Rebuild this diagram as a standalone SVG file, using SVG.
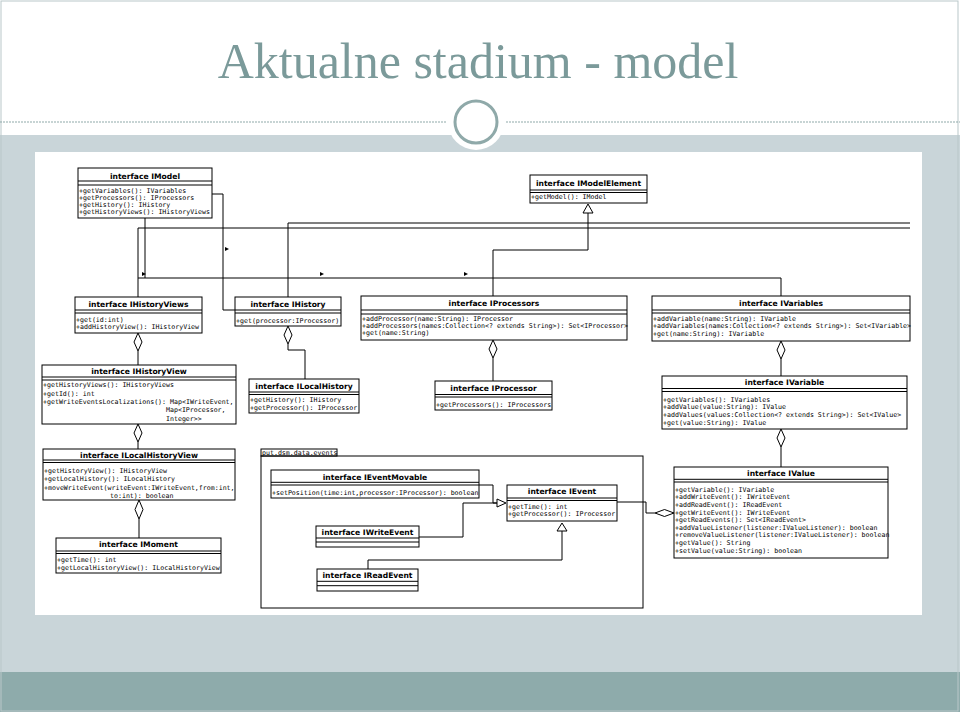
<svg xmlns="http://www.w3.org/2000/svg" width="960" height="712" viewBox="0 0 960 712">
<style>
.box{fill:#fff;stroke:#000;stroke-width:1}
.sep{stroke:#000;stroke-width:1}
.t{font-family:"DejaVu Sans",sans-serif;font-weight:bold;font-size:7.6px;text-anchor:middle;fill:#000}
.m{font-family:"DejaVu Sans Mono",monospace;font-size:6.6px;fill:#000}
.ln{stroke:#000;stroke-width:1;fill:none}
.dia{fill:#fff;stroke:#000;stroke-width:1}
.tri{fill:#fff;stroke:#000;stroke-width:1}
.nav{fill:#000}
.pkg{fill:none;stroke:#000;stroke-width:1}
</style>
<rect x="0" y="0" width="960" height="712" fill="#fff"/>
<rect x="0" y="135" width="960" height="537" fill="#c9d5d9"/>
<rect x="0" y="672" width="960" height="40" fill="#8eabab"/>
<rect x="1" y="1" width="957" height="710" fill="none" stroke="#b9c7c9" stroke-width="1"/>
<text x="478" y="78" font-family="Liberation Serif, serif" font-size="50" fill="#7b9a9a" text-anchor="middle">Aktualne stadium - model</text>
<line x1="0" y1="122" x2="446" y2="122" stroke="#8fa9a9" stroke-width="1" stroke-dasharray="2 1"/>
<line x1="506" y1="122" x2="960" y2="122" stroke="#8fa9a9" stroke-width="1" stroke-dasharray="2 1"/>
<circle cx="476" cy="122" r="28" fill="#fff"/>
<circle cx="476" cy="122" r="21" fill="#fff" stroke="#8fa9a9" stroke-width="3"/>
<rect x="35" y="152" width="887" height="463" fill="#fff"/>

<g id="package_events">
<rect class="pkg" x="261" y="449" width="76" height="7"/>
<text class="m" x="262" y="455" font-size="6">put.dsm.data.events</text>
<rect class="pkg" x="261" y="456" width="382" height="152"/>
</g>

<g id="connectors">
<polyline class="ln" points="212,194 223,194 223,310 235,310"/>
<polyline class="ln" points="145,218 145,278"/>
<polyline class="ln" points="138,278 781,278 781,296"/>
<polyline class="ln" points="138,297 138,228 910,228"/>
<polyline class="ln" points="288,297 288,223 910,223"/>
<polyline class="ln" points="493,296 493,250 588,250 588,213"/>
<polygon class="tri" points="588,204 583,213 593,213"/>
<polygon class="nav" points="225,247 229,249 225,251"/>
<polygon class="nav" points="142,272 146,274 142,276"/>
<polygon class="nav" points="320,272 324,274 320,276"/>
<polygon class="nav" points="464,272 468,274 464,276"/>
<line class="ln" x1="138" y1="351" x2="138" y2="365"/>
<polygon class="dia" points="138,333 142,342 138,351 134,342"/>
<polyline class="ln" points="288,344 288,350 305,350 305,379"/>
<polygon class="dia" points="288,326 292,335 288,344 284,335"/>
<line class="ln" x1="493" y1="358" x2="493" y2="381"/>
<polygon class="dia" points="493,340 497,349 493,358 489,349"/>
<line class="ln" x1="781" y1="359" x2="781" y2="376"/>
<polygon class="dia" points="781,341 785,350 781,359 777,350"/>
<line class="ln" x1="138" y1="442" x2="138" y2="449"/>
<polygon class="dia" points="138,424 142,433 138,442 134,433"/>
<line class="ln" x1="781" y1="447" x2="781" y2="467"/>
<polygon class="dia" points="781,429 785,438 781,447 777,438"/>
<line class="ln" x1="139" y1="519" x2="139" y2="538"/>
<polygon class="dia" points="139,500 143,509.5 139,519 135,509.5"/>
<polyline class="ln" points="479,485 493,485 493,503 497,503"/>
<polyline class="ln" points="419,537 463,537 463,503 497,503"/>
<polygon class="tri" points="506,503 497,499 497,507"/>
<polyline class="ln" points="368,569 368,560 562,560 562,531"/>
<polygon class="tri" points="562,523 557,531 567,531"/>
<polyline class="ln" points="617,502 646,502 646,513 655,513"/>
<polygon class="dia" points="655,513 664.5,509.5 674,513 664.5,516.5"/>
</g>

<g id="IModel">
<rect class="box" x="78" y="168" width="134" height="50"/>
<line class="sep" x1="78" y1="181" x2="212" y2="181"/>
<line class="sep" x1="78" y1="185" x2="212" y2="185"/>
<text class="t" x="145" y="178.5">interface IModel</text>
<text class="m" x="79" y="193.3">+getVariables(): IVariables</text>
<text class="m" x="79" y="200.3">+getProcessors(): IProcessors</text>
<text class="m" x="79" y="207.3">+getHistory(): IHistory</text>
<text class="m" x="79" y="214">+getHistoryViews(): IHistoryViews</text>
</g>

<g id="IModelElement">
<rect class="box" x="530" y="175" width="117" height="28"/>
<line class="sep" x1="530" y1="190" x2="647" y2="190"/>
<line class="sep" x1="530" y1="192.5" x2="647" y2="192.5"/>
<text class="t" x="588.5" y="186">interface IModelElement</text>
<text class="m" x="531" y="198.5">+getModel(): IModel</text>
</g>

<g id="IHistoryViews">
<rect class="box" x="75" y="297" width="127" height="36"/>
<line class="sep" x1="75" y1="310" x2="202" y2="310"/>
<line class="sep" x1="75" y1="313" x2="202" y2="313"/>
<text class="t" x="138.5" y="307">interface IHistoryViews</text>
<text class="m" x="76" y="322">+get(id:int)</text>
<text class="m" x="76" y="329">+addHistoryView(): IHistoryView</text>
</g>

<g id="IHistory">
<rect class="box" x="235" y="297" width="106" height="29"/>
<line class="sep" x1="235" y1="310" x2="341" y2="310"/>
<line class="sep" x1="235" y1="313" x2="341" y2="313"/>
<text class="t" x="288" y="307">interface IHistory</text>
<text class="m" x="236" y="322.6">+get(processor:IProcessor)</text>
</g>

<g id="IProcessors">
<rect class="box" x="361" y="296" width="266" height="44"/>
<line class="sep" x1="361" y1="310" x2="627" y2="310"/>
<line class="sep" x1="361" y1="314" x2="627" y2="314"/>
<text class="t" x="494" y="305.5">interface IProcessors</text>
<text class="m" x="362" y="320.5">+addProcessor(name:String): IProcessor</text>
<text class="m" x="362" y="327.8">+addProcessors(names:Collection&lt;? extends String&gt;): Set&lt;IProcessor&gt;</text>
<text class="m" x="362" y="335">+get(name:String)</text>
</g>

<g id="IVariables">
<rect class="box" x="652" y="296" width="258" height="45"/>
<line class="sep" x1="652" y1="310" x2="910" y2="310"/>
<line class="sep" x1="652" y1="313" x2="910" y2="313"/>
<text class="t" x="781" y="306">interface IVariables</text>
<text class="m" x="653" y="321">+addVariable(name:String): IVariable</text>
<text class="m" x="653" y="328.3">+addVariables(names:Collection&lt;? extends String&gt;): Set&lt;IVariable&gt;</text>
<text class="m" x="653" y="336">+get(name:String): IVariable</text>
</g>

<g id="IHistoryView">
<rect class="box" x="42" y="365" width="194" height="59"/>
<line class="sep" x1="42" y1="377" x2="236" y2="377"/>
<line class="sep" x1="42" y1="380" x2="236" y2="380"/>
<text class="t" x="139" y="373.5">interface IHistoryView</text>
<text class="m" x="43" y="387.3">+getHistoryViews(): IHistoryViews</text>
<text class="m" x="43" y="395.6">+getId(): int</text>
<text class="m" x="43" y="404">+getWriteEventsLocalizations(): Map&lt;IWriteEvent,</text>
<text class="m" x="166" y="412.3">Map&lt;IProcessor,</text>
<text class="m" x="166" y="420.6">Integer&gt;&gt;</text>
</g>

<g id="ILocalHistory">
<rect class="box" x="249" y="379" width="110" height="34"/>
<line class="sep" x1="249" y1="392" x2="359" y2="392"/>
<line class="sep" x1="249" y1="394.5" x2="359" y2="394.5"/>
<text class="t" x="304" y="388.5">interface ILocalHistory</text>
<text class="m" x="250" y="402.3">+getHistory(): IHistory</text>
<text class="m" x="250" y="409.6">+getProcessor(): IProcessor</text>
</g>

<g id="IProcessor">
<rect class="box" x="435" y="381" width="117" height="29"/>
<line class="sep" x1="435" y1="394.5" x2="552" y2="394.5"/>
<line class="sep" x1="435" y1="397" x2="552" y2="397"/>
<text class="t" x="493.5" y="390.8">interface IProcessor</text>
<text class="m" x="436" y="407.3">+getProcessors(): IProcessors</text>
</g>

<g id="IVariable">
<rect class="box" x="662" y="376" width="245" height="53"/>
<line class="sep" x1="662" y1="388.5" x2="907" y2="388.5"/>
<line class="sep" x1="662" y1="391.5" x2="907" y2="391.5"/>
<text class="t" x="784.5" y="385.4">interface IVariable</text>
<text class="m" x="663" y="401.6">+getVariables(): IVariables</text>
<text class="m" x="663" y="409">+addValue(value:String): IValue</text>
<text class="m" x="663" y="417.3">+addValues(values:Collection&lt;? extends String&gt;): Set&lt;IValue&gt;</text>
<text class="m" x="663" y="424.6">+get(value:String): IValue</text>
</g>

<g id="ILocalHistoryView">
<rect class="box" x="43" y="449" width="192" height="51"/>
<line class="sep" x1="43" y1="460" x2="235" y2="460"/>
<line class="sep" x1="43" y1="462.5" x2="235" y2="462.5"/>
<text class="t" x="139" y="457.7">interface ILocalHistoryView</text>
<text class="m" x="44" y="473.3">+getHistoryView(): IHistoryView</text>
<text class="m" x="44" y="481.3">+getLocalHistory(): ILocalHistory</text>
<text class="m" x="44" y="489.6">+moveWriteEvent(writeEvent:IWriteEvent,from:int,</text>
<text class="m" x="110" y="498">to:int): boolean</text>
</g>

<g id="IMoment">
<rect class="box" x="56" y="538" width="165" height="35"/>
<line class="sep" x1="56" y1="551" x2="221" y2="551"/>
<line class="sep" x1="56" y1="553.5" x2="221" y2="553.5"/>
<text class="t" x="138.5" y="547">interface IMoment</text>
<text class="m" x="57" y="562.3">+getTime(): int</text>
<text class="m" x="57" y="570">+getLocalHistoryView(): ILocalHistoryView</text>
</g>

<g id="IValue">
<rect class="box" x="674" y="467" width="214" height="91"/>
<line class="sep" x1="674" y1="479.3" x2="888" y2="479.3"/>
<line class="sep" x1="674" y1="482" x2="888" y2="482"/>
<text class="t" x="781" y="476">interface IValue</text>
<text class="m" x="675" y="491.6">+getVariable(): IVariable</text>
<text class="m" x="675" y="499">+addWriteEvent(): IWriteEvent</text>
<text class="m" x="675" y="506.6">+addReadEvent(): IReadEvent</text>
<text class="m" x="675" y="514.6">+getWriteEvent(): IWriteEvent</text>
<text class="m" x="675" y="522.3">+getReadEvents(): Set&lt;IReadEvent&gt;</text>
<text class="m" x="675" y="530">+addValueListener(listener:IValueListener): boolean</text>
<text class="m" x="675" y="537.3">+removeValueListener(listener:IValueListener): boolean</text>
<text class="m" x="675" y="545">+getValue(): String</text>
<text class="m" x="675" y="553">+setValue(value:String): boolean</text>
</g>

<g id="IEventMovable">
<rect class="box" x="271" y="470" width="208" height="28"/>
<line class="sep" x1="271" y1="482.3" x2="479" y2="482.3"/>
<line class="sep" x1="271" y1="485" x2="479" y2="485"/>
<text class="t" x="375" y="479.7">interface IEventMovable</text>
<text class="m" x="272" y="495.3">+setPosition(time:int,processor:IProcessor): boolean</text>
</g>

<g id="IEvent">
<rect class="box" x="507" y="485" width="110" height="36"/>
<line class="sep" x1="507" y1="498" x2="617" y2="498"/>
<line class="sep" x1="507" y1="500.5" x2="617" y2="500.5"/>
<text class="t" x="562" y="494">interface IEvent</text>
<text class="m" x="508" y="508.6">+getTime(): int</text>
<text class="m" x="508" y="516">+getProcessor(): IProcessor</text>
</g>

<g id="IWriteEvent">
<rect class="box" x="316" y="526" width="103" height="21"/>
<line class="sep" x1="316" y1="538" x2="419" y2="538"/>
<line class="sep" x1="316" y1="542" x2="419" y2="542"/>
<text class="t" x="367.5" y="535">interface IWriteEvent</text>
</g>

<g id="IReadEvent">
<rect class="box" x="317" y="569" width="101" height="22"/>
<line class="sep" x1="317" y1="581.3" x2="418" y2="581.3"/>
<line class="sep" x1="317" y1="585.7" x2="418" y2="585.7"/>
<text class="t" x="367.5" y="578.4">interface IReadEvent</text>
</g>
</svg>
